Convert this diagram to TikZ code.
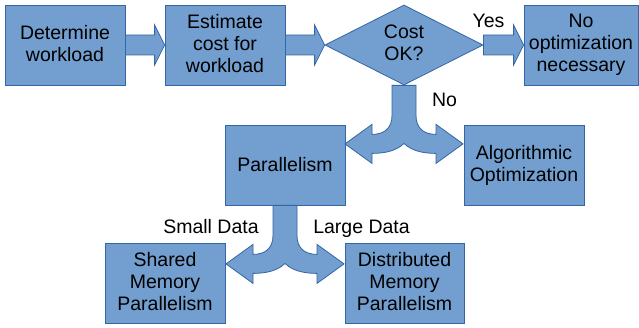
\documentclass[tikz,border=0pt]{standalone}
\usepackage{fontspec}
\setmainfont{Liberation Sans}
\usetikzlibrary{shapes.geometric,calc}
\definecolor{boxfill}{RGB}{114,159,207}
\definecolor{boxline}{RGB}{52,101,164}
\newcommand\topstrut{\rule{0pt}{17.6pt}}
\newcommand\botstrut{\rule[-4.1pt]{0pt}{4.1pt}}
\tikzset{
  shapebase/.style={draw=boxline, fill=boxfill, line width=0.8pt, inner sep=0pt,
    align=center, text=black, font=\fontsize{19.5}{22}\selectfont,
    execute at begin node=\topstrut, execute at end node=\botstrut},
  procbox/.style={shapebase, rectangle, minimum width=120pt, minimum height=80pt},
  decbox/.style={shapebase, diamond, aspect=2, minimum width=158pt, minimum height=80pt},
  arrowshape/.style={draw=boxline, fill=boxfill, line width=0.8pt, line join=miter},
  lbl/.style={anchor=base, inner sep=0pt, text=black, font=\fontsize{19.5}{22}\selectfont},
  splitarrow/.pic={
    \filldraw[arrowshape] (-12,0) -- (-12,30) .. controls (-12,43) and (-20,49) .. (-32,49)
      -- (-32,39) -- (-59,58.5) -- (-32,78) -- (-32,68)
      .. controls (-18,68) and (-7,65) .. (0,58)
      .. controls (7,65) and (18,68) .. (32,68)
      -- (32,78) -- (59,58.5) -- (32,39) -- (32,49)
      .. controls (20,49) and (12,43) .. (12,30) -- (12,0) -- cycle;
  }
}
\newcommand\blockarrow[2]{%
  \filldraw[arrowshape] let \p1=(#1), \p2=(#2) in
    (\x1,\y1+10pt) -- (\x2-10pt,\y1+10pt) -- (\x2-10pt,\y1+20pt) -- (\x2,\y1)
    -- (\x2-10pt,\y1-20pt) -- (\x2-10pt,\y1-10pt) -- (\x1,\y1-10pt) -- cycle;}
\begin{document}
\begin{tikzpicture}[x=1pt,y=-1pt]
\useasboundingbox (0,0) rectangle (639,328);
\node[procbox] (det) at (65,45) {Determine\\workload};
\node[procbox] (est) at (225,45) {Estimate\\cost for\\workload};
\node[decbox] (cost) at (404,45) {Cost\\OK?};
\node[procbox, minimum width=114pt] (noopt) at (581,45) {No\\optimization\\necessary};
\node[procbox] (par) at (285,165) {Parallelism};
\node[procbox] (alg) at (524,165) {Algorithmic\\Optimization};
\node[procbox] (shm) at (165,283) {Shared\\Memory\\Parallelism};
\node[procbox, minimum width=119pt] (dist) at (404.5,283) {Distributed\\Memory\\Parallelism};
\blockarrow{det.east}{est.west}
\blockarrow{est.east}{cost.west}
\blockarrow{cost.east}{noopt.west}
\pic at (cost.south) {splitarrow};
\pic at (par.south) {splitarrow};
\node[lbl] (yes) at (488.5,28) {Yes};
\node[lbl] (no) at (444.5,107) {No};
\node[lbl] (small) at (211,234) {Small Data};
\node[lbl] (large) at (361.5,234) {Large Data};
\end{tikzpicture}
\end{document}
